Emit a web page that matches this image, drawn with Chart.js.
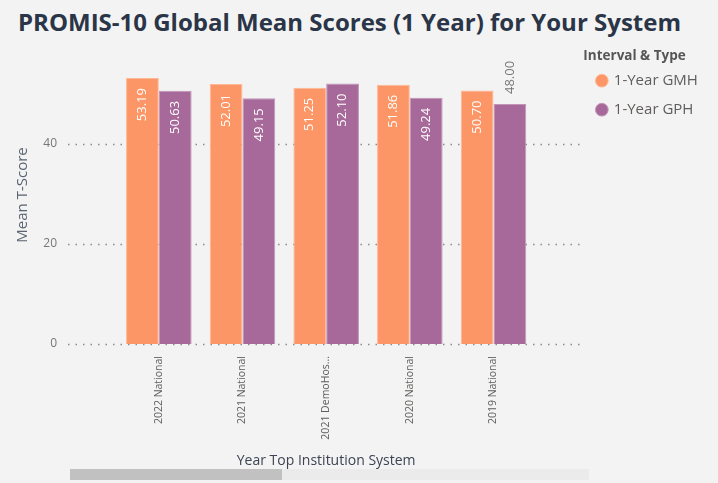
<!DOCTYPE html>
<html lang="en">
<head>
    <meta charset="UTF-8">
    <title>PROMIS-10 Global Mean Scores</title>
    <script src="https://cdn.jsdelivr.net/npm/chart.js"></script>
    <style>
        body {
            margin: 0;
            width: 718px;
            height: 483px;
            overflow: hidden;
            position: relative;
            background-color: #f3f3f3;
            font-family: 'Open Sans', sans-serif;
        }

        h1 {
            position: absolute;
            left: 18px;
            top: 5px;
            margin: 0;
            font-size: 24px;
            font-weight: bold;
            color: #2a3547;
            white-space: nowrap;
        }

        .chart-box {
            position: absolute;
            left: 0;
            top: 40px;
            width: 718px;
            height: 443px;
        }

        .scroll-track {
            position: absolute;
            left: 70px;
            top: 469px;
            width: 519px;
            height: 11px;
            background-color: #ebebeb;
        }

        .scroll-thumb {
            position: absolute;
            left: 70px;
            top: 469px;
            width: 212px;
            height: 11px;
            background-color: #c1c1c1;
        }
    </style>
</head>
<body>
    <h1>PROMIS-10 Global Mean Scores (1 Year) for Your System</h1>
    <div class="chart-box">
        <canvas id="chart"></canvas>
    </div>
    <div class="scroll-track"></div>
    <div class="scroll-thumb"></div>

    <script>
        // values
        const categories = ['2022 National', '2021 National', '2021 DemoHos...', '2020 National', '2019 National'];
        const gmhScores = [53.19, 52.01, 51.25, 51.86, 50.70];
        const gphScores = [50.63, 49.15, 52.10, 49.24, 48.00];
        const seriesNames = ['1-Year GMH', '1-Year GPH'];
        const yTicks = [0, 20, 40];

        // dotted gridlines that run a bit past the plot on both sides
        const dottedGrid = {
            id: 'dottedGrid',
            beforeDatasetsDraw(chart) {
                const ctx = chart.ctx;
                const area = chart.chartArea;
                const y = chart.scales.y;
                ctx.save();
                ctx.strokeStyle = '#8a8a8a';
                ctx.lineWidth = 1.5;
                ctx.setLineDash([1.5, 6]);
                y.ticks.forEach(t => {
                    const py = Math.round(y.getPixelForValue(t.value)) + 0.5;
                    ctx.beginPath();
                    ctx.moveTo(area.left - 49, py);
                    ctx.lineTo(area.right + 45, py);
                    ctx.stroke();
                });
                ctx.restore();
            }
        };

        // rotated value labels, inside the bar end unless listed as outside
        const valueLabels = {
            id: 'valueLabels',
            afterDatasetsDraw(chart, args, opts) {
                const ctx = chart.ctx;
                ctx.save();
                ctx.font = '13px "Open Sans", sans-serif';
                ctx.textBaseline = 'middle';
                chart.data.datasets.forEach((ds, di) => {
                    chart.getDatasetMeta(di).data.forEach((bar, i) => {
                        const outside = opts.outside.some(p => p[0] === di && p[1] === i);
                        ctx.save();
                        if (outside) {
                            ctx.translate(bar.x, bar.y - 10);
                            ctx.textAlign = 'left';
                            ctx.fillStyle = '#777777';
                        } else {
                            ctx.translate(bar.x, bar.y + 10);
                            ctx.textAlign = 'right';
                            ctx.fillStyle = '#ffffff';
                        }
                        ctx.rotate(-Math.PI / 2);
                        ctx.fillText(ds.data[i].toFixed(2), 0, 0);
                        ctx.restore();
                    });
                });
                ctx.restore();
            }
        };

        new Chart(document.getElementById('chart'), {
            type: 'bar',
            data: {
                labels: categories,
                datasets: [{
                    label: seriesNames[0],
                    data: gmhScores,
                    backgroundColor: '#fd9666',
                    borderColor: '#ffb895',
                    borderWidth: 1,
                    barPercentage: 1,
                    categoryPercentage: 0.784
                }, {
                    label: seriesNames[1],
                    data: gphScores,
                    backgroundColor: '#a66999',
                    borderColor: '#c294b8',
                    borderWidth: 1,
                    barPercentage: 1,
                    categoryPercentage: 0.784
                }]
            },
            options: {
                responsive: true,
                maintainAspectRatio: false,
                animation: false,
                layout: {
                    padding: { top: 6, left: 0, right: 18, bottom: 0 }
                },
                scales: {
                    x: {
                        grid: { display: false },
                        border: { display: false },
                        ticks: {
                            autoSkip: false,
                            minRotation: 90,
                            maxRotation: 90,
                            padding: 4,
                            color: '#605e5c',
                            font: { family: 'Open Sans', size: 10.5 }
                        },
                        title: {
                            display: true,
                            text: 'Year Top Institution System',
                            color: '#3c4454',
                            font: { family: 'Open Sans', size: 14 },
                            padding: { top: 14, bottom: 14 }
                        },
                        afterFit: s => { s.height = 139; }
                    },
                    y: {
                        min: 0,
                        max: 59.6,
                        grid: { display: false },
                        border: { display: false },
                        afterBuildTicks: s => { s.ticks = yTicks.map(v => ({ value: v })); },
                        ticks: {
                            padding: 52,
                            color: '#777777',
                            font: { family: 'Open Sans', size: 12 }
                        },
                        title: {
                            display: true,
                            text: 'Mean T-Score',
                            color: '#5a6472',
                            font: { family: 'Open Sans', size: 15 },
                            padding: { top: 14, bottom: 0 }
                        },
                        afterFit: s => {
                            s.width = 117;
                            s.paddingTop = 0;
                            s.paddingBottom = 0;
                        }
                    },
                    gap: {
                        type: 'linear',
                        position: 'right',
                        display: true,
                        grid: { display: false },
                        border: { display: false },
                        ticks: { display: false },
                        afterFit: s => { s.width = 48; }
                    }
                },
                plugins: {
                    legend: {
                        position: 'right',
                        align: 'start',
                        title: {
                            display: true,
                            text: 'Interval & Type',
                            position: 'start',
                            color: '#555555',
                            font: { family: 'Open Sans', size: 13.5, weight: 'bold' },
                            padding: { top: 3, bottom: -6 }
                        },
                        labels: {
                            usePointStyle: true,
                            pointStyle: 'circle',
                            boxWidth: 9,
                            boxHeight: 9,
                            padding: 14,
                            color: '#605e5c',
                            font: { family: 'Open Sans', size: 15 }
                        }
                    },
                    tooltip: { enabled: false },
                    valueLabels: { outside: [[1, 4]] }
                }
            },
            plugins: [dottedGrid, valueLabels]
        });
    </script>
</body>
</html>
